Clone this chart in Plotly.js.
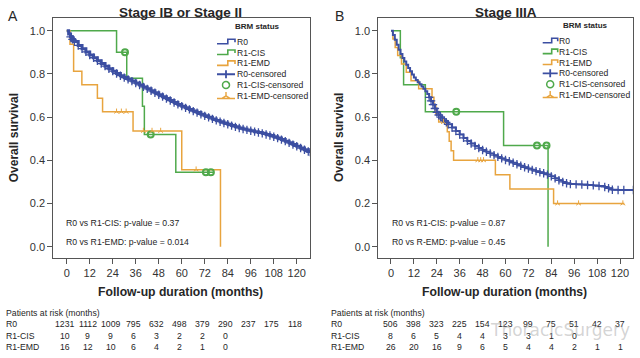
<!DOCTYPE html>
<html><head><meta charset="utf-8">
<script src="https://cdn.plot.ly/plotly-3.0.1.min.js"></script>
<style>html,body{margin:0;padding:0;background:#fff;}#chart{width:640px;height:358px;}</style>
</head><body><div id="chart"></div>
<script>
// ---------------- DATA ----------------
const monthTicks = [0, 12, 24, 36, 48, 60, 72, 84, 96, 108, 120];
const survTicks = [0, 0.2, 0.4, 0.6, 0.8, 1.0];
const legendLabels = ["R0", "R1-CIS", "R1-EMD", "R0-censored", "R1-CIS-censored", "R1-EMD-censored"];
const riskGroups = ["R0", "R1-CIS", "R1-EMD"];

// Panel A: Stage IB or Stage II
const aR0Time = [0,1,2,3,4,6,8,10,12,14,16,18,20,22,24,26,28,30,32,34,36,38,40,42,44,46,48,50,52,54,56,58,60,62,64,66,68,70,72,74,76,78,80,82,84,86,88,90,92,94,96,98,100,102,104,106,108,110,112,114,116,118,120,122,124,126,127];
const aR0Surv = [1.000,0.985,0.972,0.960,0.950,0.932,0.917,0.902,0.888,0.875,0.861,0.848,0.836,0.824,0.813,0.802,0.792,0.783,0.775,0.767,0.758,0.749,0.740,0.731,0.722,0.713,0.704,0.695,0.686,0.677,0.668,0.659,0.651,0.643,0.636,0.628,0.621,0.613,0.606,0.599,0.592,0.585,0.579,0.573,0.567,0.561,0.555,0.550,0.545,0.541,0.537,0.533,0.529,0.525,0.520,0.515,0.509,0.503,0.496,0.489,0.481,0.473,0.465,0.457,0.449,0.441,0.438];
const aCisTime = [0, 26, 31.3, 39.5, 40.5, 56.9, 76.4];
const aCisSurv = [1, 0.9, 0.78, 0.65, 0.52, 0.345, 0.345];
const aCisCensTime = [30.4, 43.8, 72.6, 75.2];
const aCisCensSurv = [0.9, 0.52, 0.345, 0.345];
const aEmdTime = [0, 1.7, 3.6, 7.9, 16, 18.7, 34.6, 60, 80.2];
const aEmdSurv = [1, 0.9375, 0.8125, 0.75, 0.6875, 0.625, 0.536, 0.357, 0];
const aEmdCensTime = [26, 28.5, 31, 40, 44.5, 49, 67.5];
const aEmdCensSurv = [0.625, 0.625, 0.625, 0.536, 0.536, 0.536, 0.357];
const aRiskR0 = [1231, 1112, 1009, 795, 632, 498, 379, 290, 237, 175, 118];
const aRiskCis = [10, 9, 9, 6, 3, 2, 2, 0];
const aRiskEmd = [16, 12, 10, 6, 4, 2, 1, 0];

// Panel B: Stage IIIA
const bR0Time = [0,1,2,3,4,5,6,7,8,9,10,11,12,13,14,15,16,17,18,19,20,21,22,23,24,25,26,27,28,29,30,32,34,36,38,40,42,44,46,48,50,52,54,56,58,60,62,64,66,68,70,72,74,76,78,80,82,84,86,88,90,92,94,97,100,103,106,109,112,114,116,119,122,127];
const bR0Surv = [1.000,0.980,0.958,0.935,0.912,0.892,0.874,0.858,0.843,0.828,0.813,0.798,0.784,0.772,0.762,0.752,0.742,0.732,0.720,0.707,0.692,0.675,0.658,0.640,0.622,0.610,0.600,0.592,0.584,0.576,0.567,0.552,0.536,0.520,0.504,0.490,0.478,0.467,0.457,0.448,0.440,0.432,0.424,0.416,0.409,0.402,0.396,0.389,0.382,0.375,0.368,0.362,0.356,0.350,0.345,0.340,0.334,0.326,0.317,0.308,0.300,0.294,0.290,0.289,0.288,0.286,0.284,0.281,0.277,0.271,0.264,0.263,0.263,0.263];
const bCisTime = [0, 4.9, 6.6, 18, 59, 82.3];
const bCisSurv = [1, 0.875, 0.75, 0.625, 0.469, 0];
const bCisCensTime = [34.2, 76.5, 81.5];
const bCisCensSurv = [0.625, 0.469, 0.469];
const bEmdTime = [0, 1, 2.2, 3.5, 5.5, 8, 10.5, 14.5, 21.5, 22.5, 23.5, 25, 29.5, 30.5, 31.5, 32.8, 54.7, 62.3, 85.2, 122.3];
const bEmdSurv = [1, 0.962, 0.923, 0.885, 0.846, 0.808, 0.769, 0.731, 0.692, 0.654, 0.615, 0.577, 0.533, 0.488, 0.444, 0.40, 0.333, 0.267, 0.20, 0.20];
const bEmdCensTime = [27.5, 45.5, 47, 48.5, 87.3, 98.3, 121.5];
const bEmdCensSurv = [0.577, 0.40, 0.40, 0.40, 0.20, 0.20, 0.20];
const bRiskR0 = [506, 398, 323, 225, 154, 123, 99, 75, 51, 42, 37];
const bRiskCis = [8, 6, 5, 4, 4, 3, 3, 1, 0];
const bRiskEmd = [26, 20, 16, 9, 6, 5, 4, 4, 2, 1, 1];

// ---------------- STYLE ----------------
const BLUE = '#3c4fa2', GREEN = '#4fa94b', ORANGE = '#e8a43e';
const FONT = 'Liberation Sans, Arial, Helvetica, sans-serif';
const TXT = '#262626';
const W = 640, H = 358;
const px = x => x / W, py = y => 1 - y / H;

function kmLine(x, y, color, width, xa, ya) {
  return {x, y, type: 'scatter', mode: 'lines', line: {shape: 'hv', color, width}, xaxis: xa, yaxis: ya, showlegend: false, hoverinfo: 'skip'};
}
function cens(x, y, color, symbol, size, lw, xa, ya) {
  return {x, y, type: 'scatter', mode: 'markers', marker: {symbol, size, color, line: {color, width: lw}}, xaxis: xa, yaxis: ya, showlegend: false, hoverinfo: 'skip'};
}

const aCut = 2, bCut = bR0Time.indexOf(20);
const traces = [
  kmLine(aCisTime, aCisSurv, GREEN, 1.5, 'x', 'y'),
  kmLine(aEmdTime, aEmdSurv, ORANGE, 1.5, 'x', 'y'),
  kmLine(aR0Time, aR0Surv, BLUE, 3, 'x', 'y'),
  cens(aR0Time.slice(aCut), aR0Surv.slice(aCut), BLUE, 'cross-thin', 6, 1.3, 'x', 'y'),
  cens(aCisCensTime, aCisCensSurv, GREEN, 'circle-open', 6, 2, 'x', 'y'),
  cens(aEmdCensTime, aEmdCensSurv, ORANGE, 'y-up', 4, 1, 'x', 'y'),
  kmLine(bCisTime, bCisSurv, GREEN, 1.5, 'x2', 'y2'),
  kmLine(bEmdTime, bEmdSurv, ORANGE, 1.5, 'x2', 'y2'),
  kmLine(bR0Time, bR0Surv, BLUE, 2, 'x2', 'y2'),
  cens(bR0Time.slice(bCut), bR0Surv.slice(bCut), BLUE, 'cross-thin', 6, 1.3, 'x2', 'y2'),
  cens(bCisCensTime, bCisCensSurv, GREEN, 'circle-open', 6, 2, 'x2', 'y2'),
  cens(bEmdCensTime, bEmdCensSurv, ORANGE, 'y-up', 4, 1, 'x2', 'y2')
];

const axBase = {showgrid: false, zeroline: false, showline: true, mirror: true, linecolor: '#555', linewidth: 1,
  ticks: 'outside', ticklen: 5, tickwidth: 1, tickcolor: '#555', fixedrange: true,
  tickfont: {family: FONT, size: 11, color: '#333'}};
const yDom = [py(258), py(18)];
const yRange = [-0.052, 1.059];

const annotations = [];
const shapes = [];
function T(text, x, y, size, opts) {
  annotations.push(Object.assign({text, x: px(x), y: py(y), xref: 'paper', yref: 'paper', showarrow: false,
    xanchor: 'center', yanchor: 'middle', borderpad: 0, font: {family: FONT, size, color: TXT}}, opts || {}));
}
function P(pts) { return pts.map((p, i) => (i === 0 || p[2] ? 'M' : 'L') + px(p[0]).toFixed(5) + ',' + py(p[1]).toFixed(5)).join(' '); }
function S(pts, color, width) {
  shapes.push({type: 'path', xref: 'paper', yref: 'paper', path: P(pts), line: {color, width}, fillcolor: 'rgba(0,0,0,0)'});
}

// panel letters and titles
T('A', 13, 16.5, 14);
T('B', 339.5, 16.5, 14);
T('<b>Stage IB or Stage II</b>', 180.5, 13, 13.5);
T('<b>Stage IIIA</b>', 505.8, 13, 13.5);
T('<b>Overall survival</b>', 14.3, 138, 12, {textangle: -90});
T('<b>Overall survival</b>', 339, 138, 12, {textangle: -90});
T('<b>Follow-up duration (months)</b>', 180.6, 291.7, 12.2);
T('<b>Follow-up duration (months)</b>', 504.4, 291.7, 12.2);
// p-values
T('R0 vs R1-CIS: p-value = 0.37', 65, 223.3, 8.7, {xanchor: 'left'});
T('R0 vs R1-EMD: p-value = 0.014', 65, 241.7, 8.7, {xanchor: 'left'});
T('R0 vs R1-CIS: p-value = 0.87', 390.7, 223.3, 8.7, {xanchor: 'left'});
T('R0 vs R-EMD: p-value = 0.45', 390.7, 241.7, 8.7, {xanchor: 'left'});

// risk tables
function riskTable(x0, xa, shift, rows) {
  T('Patients at risk (months)', x0, 313.3, 8.7, {xanchor: 'left'});
  const ys = [324, 335.7, 347.3];
  rows.forEach((vals, r) => {
    T(riskGroups[r], x0, ys[r], 8.7, {xanchor: 'left'});
    vals.forEach((v, i) => annotations.push({text: String(v), x: monthTicks[i], xref: xa, y: py(ys[r]), yref: 'paper',
      showarrow: false, xanchor: 'center', yanchor: 'middle', xshift: shift, borderpad: 0, font: {family: FONT, size: 8.7, color: TXT}}));
  });
}
riskTable(5, 'x', -2, [aRiskR0, aRiskCis, aRiskEmd]);
riskTable(330, 'x2', 0, [bRiskR0, bRiskCis, bRiskEmd]);

// legends
const legendColors = [BLUE, GREEN, ORANGE, BLUE, GREEN, ORANGE];
function legend(o) {
  T('<b>BRM status</b>', o.titleX, o.titleY, 8);
  legendLabels.forEach((lab, i) => {
    const yc = o.y0 + i * o.dy, x0 = o.sx, w = o.sw, c = legendColors[i];
    T(lab, o.tx, yc, 8.6, {xanchor: 'left'});
    if (i < 3) {
      S([[x0, yc + 2], [x0 + 0.6 * w, yc + 2], [x0 + 0.6 * w, yc - 2.5], [x0 + w, yc - 2.5], [x0 + w, yc + 0.5]], c, 1.6);
    } else if (i === 3) {
      S([[x0, yc], [x0 + w, yc], [x0 + 0.5 * w, yc - 4, true], [x0 + 0.5 * w, yc + 4]], c, 1.8);
    } else if (i === 4) {
      const cx = x0 + 0.5 * w;
      shapes.push({type: 'circle', xref: 'paper', yref: 'paper', x0: px(cx - 3.5), x1: px(cx + 3.5), y0: py(yc + 3.5), y1: py(yc - 3.5), line: {color: c, width: 1.5}});
    } else {
      const cx = x0 + 0.5 * w;
      S([[x0, yc + 2.5], [x0 + w, yc + 2.5], [cx, yc - 4, true], [cx, yc], [cx - 4, yc + 2.5], [cx, yc, true], [cx + 4, yc + 2.5]], c, 1.4);
    }
  });
}
legend({titleX: 257, titleY: 26.7, y0: 41.7, dy: 10.85, sx: 217, sw: 18, tx: 235.5});
legend({titleX: 585.8, titleY: 25.5, y0: 40.8, dy: 10.85, sx: 542.7, sw: 15, tx: 558});

// watermark
T('ThoracicSurgery', 560, 330, 17, {font: {family: 'DejaVu Sans, sans-serif', size: 17, color: 'rgba(160,160,160,0.45)'}});

const layout = {
  width: W, height: H, margin: {l: 0, r: 0, t: 0, b: 0}, paper_bgcolor: '#fff', plot_bgcolor: '#fff', showlegend: false,
  xaxis: Object.assign({}, axBase, {domain: [px(53.3), px(310)], range: [-7, 126.9], tickvals: monthTicks, anchor: 'y'}),
  yaxis: Object.assign({}, axBase, {domain: yDom, range: yRange, tickvals: survTicks, tickformat: '.1f', anchor: 'x'}),
  xaxis2: Object.assign({}, axBase, {domain: [px(378.3), px(633.3)], range: [-6.65, 126.97], tickvals: monthTicks, anchor: 'y2'}),
  yaxis2: Object.assign({}, axBase, {domain: yDom, range: yRange, tickvals: survTicks, tickformat: '.1f', anchor: 'x2'}),
  annotations, shapes
};
Plotly.newPlot('chart', traces, layout, {staticPlot: true, displayModeBar: false});
</script></body></html>
